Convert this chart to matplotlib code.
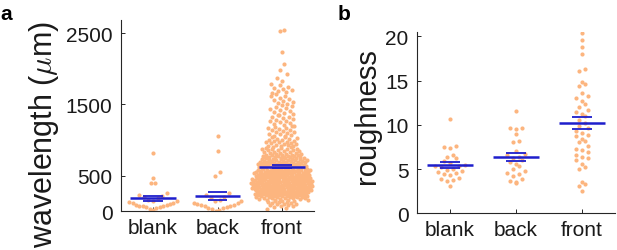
import numpy as np
import matplotlib
matplotlib.use("Agg")
import matplotlib.pyplot as plt

plt.rcParams['font.family'] = ['Liberation Sans', 'DejaVu Sans']
plt.rcParams['mathtext.fontset'] = 'cm'

categories = ["blank", "back", "front"]

# ---- panel a : wavelength (um) ----
wl_blank = [824, 462, 397, 397, 250, 232, 210, 195, 180, 165, 150, 140, 130,
            120, 110, 100, 95, 90, 80, 75, 70, 60, 55, 45, 35, 25]
wl_back = [1059, 848, 552, 490, 250, 230, 200, 180, 160, 150, 140, 120, 110,
           100, 90, 85, 80, 70, 60, 50, 40, 30, 20, 10]
wl_front = [
    38, 52, 61, 74, 80, 88, 93, 99,
    103, 109, 114, 118, 126, 131, 133, 140, 144, 147, 152, 158, 161, 163, 169,
    172, 176, 181, 184, 187, 190, 193, 195, 197, 199,
    201, 204, 205, 208, 211, 212, 216, 218, 219, 222, 224, 226, 228, 230, 231,
    234, 236, 238, 240, 241, 244, 245, 247, 249, 250, 252, 254, 256, 257, 259,
    261, 262, 264, 266, 268, 269, 271, 273, 274, 276, 278, 279, 281, 283, 284,
    286, 287, 289, 290, 292, 293, 294, 295, 296, 297, 298, 299, 243, 263, 277,
    300, 302, 303, 305, 306, 308, 309, 311, 312, 314, 315, 317, 318, 320, 321,
    323, 324, 326, 327, 329, 330, 332, 333, 335, 336, 338, 339, 341, 342, 344,
    345, 347, 348, 350, 351, 353, 354, 356, 357, 359, 360, 362, 363, 365, 366,
    368, 369, 371, 372, 374, 375, 377, 378, 380, 381, 383, 384, 386, 388, 390,
    392, 394, 396, 398, 399, 310, 334, 352, 367, 385,
    400, 401, 403, 404, 406, 408, 409, 411, 413, 414, 416, 418, 419, 421, 423,
    424, 426, 428, 429, 431, 433, 434, 436, 438, 439, 441, 443, 444, 446, 448,
    449, 451, 453, 454, 456, 458, 459, 461, 463, 464, 466, 468, 469, 471, 473,
    474, 476, 478, 479, 481, 483, 484, 486, 488, 489, 491, 493, 494, 496, 498,
    405, 417, 427, 437, 447, 457, 467, 477, 487, 497,
    501, 503, 505, 507, 509, 511, 514, 516, 518, 520, 522, 524, 526, 528, 531,
    533, 535, 537, 539, 541, 543, 545, 548, 550, 552, 554, 556, 558, 560, 562,
    565, 567, 569, 571, 573, 575, 577, 580, 582, 584, 586, 588, 590, 592, 594,
    596, 598, 599, 512, 546,
    601, 603, 605, 608, 610, 612, 615, 617, 619, 622, 624, 626, 629, 631, 633,
    636, 638, 640, 643, 645, 647, 650, 652, 654, 657, 659, 661, 664, 666, 668,
    671, 673, 675, 678, 680, 682, 685, 687, 689, 692, 694, 696, 699, 620, 655,
    702, 705, 708, 711, 714, 717, 720, 723, 726, 729, 732, 735, 738, 741, 744,
    747, 750, 753, 756, 759, 762, 765, 768, 771, 774, 777, 780, 783, 786, 789,
    792, 795, 798, 728, 766,
    804, 811, 814, 818, 825, 828, 831, 839, 843, 846, 855, 858, 861, 869, 872,
    878, 880, 888, 893, 897,
    903, 910, 914, 922, 927, 935, 941, 945, 954, 958, 967, 970, 977, 986, 989,
    996,
    1006, 1015, 1021, 1032, 1038, 1049, 1055, 1063, 1074, 1080, 1090, 1097,
    1108, 1119, 1125, 1138, 1144, 1156, 1163, 1175, 1182, 1194,
    1203, 1217, 1226, 1240, 1248, 1262, 1270, 1285, 1293,
    1305, 1320, 1330, 1345, 1354, 1370, 1379, 1394,
    1409, 1420, 1437, 1448, 1466, 1476, 1493,
    1506, 1524, 1535, 1553, 1563, 1582, 1592,
    1612, 1624, 1640, 1662, 1675, 1690,
    1701, 1721, 1725, 1739, 1772, 1785,
    1834, 1870, 1925, 1983, 2068, 2242, 2532, 2546]

# ---- panel b : roughness ----
ro_blank = [10.7, 7.6, 7.5, 7.4, 6.6, 6.4, 6.2, 5.9, 5.7, 5.5, 5.4, 5.3, 5.2,
            5.0, 4.9, 4.8, 4.7, 4.5, 4.4, 4.3, 4.0, 3.9, 3.8, 3.6, 3.1]
ro_back = [11.6, 9.6, 9.6, 9.5, 9.0, 8.1, 8.2, 7.0, 6.7, 6.6, 6.4, 6.3, 6.0,
           5.8, 5.6, 5.3, 5.0, 4.8, 4.6, 4.4, 4.2, 3.9, 3.7, 3.5, 3.4]
ro_front = [20.4, 19.6, 18.8, 18.0, 16.3, 16.1, 14.8, 14.6, 14.4, 13.6, 13.2,
            13.0, 12.7, 12.3, 12.0, 11.7, 11.5, 11.2, 11.0, 10.5, 10.2, 9.9,
            9.6, 9.3, 9.1, 8.9, 8.7, 8.4, 8.2, 8.0, 7.6, 7.3, 7.1, 6.9, 6.6,
            6.4, 6.2, 6.0, 5.6, 5.2, 5.0, 3.5, 3.3, 3.1, 2.5]

wl_ticks = [0, 500, 1500, 2500]
ro_ticks = [0, 5, 10, 15, 20]

DOT = '#FCB57F'
BLUE = '#1E1ECC'
AXC = '#262626'
GOLD = 0.6180339887


def spread(vals, h, s0, wmax, scatter_k, expo=0.4):
    """Density-based horizontal layout of points (plotSpread-like)."""
    v = np.asarray(vals, float)
    bins = np.floor(v / h).astype(int)
    ub, cnt = np.unique(bins, return_counts=True)
    kmax = cnt.max()
    offs = np.zeros(len(v))
    for b, k in zip(ub, cnt):
        if k < 2:
            continue
        idx = np.where(bins == b)[0]
        idx = idx[np.argsort(v[idx], kind='stable')]
        W = wmax * (k / kmax) ** expo
        s = min(s0, 2 * W / (k - 1))
        half = s * (k - 1) / 2
        if k <= scatter_k:
            pos = (np.arange(k) - (k - 1) / 2) * s
            order = np.argsort(np.abs(pos) + 1e-9 * np.arange(k), kind='stable')
            offs[idx] = pos[order]
        else:
            u = (np.arange(k) * GOLD + 0.37 * b) % 1.0
            offs[idx] = -half + 2 * half * u
    return offs


def panel(ax, groups, h, s0, wmaxes, scat, ylim, yticks, ms):
    for i, (g, wm, sk) in enumerate(zip(groups, wmaxes, scat), start=1):
        g = np.asarray(g, float)
        x = i + spread(g, h, s0, wm, sk)
        ax.scatter(x, g, s=ms, color=DOT, linewidths=0, zorder=2)
        m = g.mean()
        se = g.std(ddof=1) / np.sqrt(len(g))
        ax.plot([i - 0.35, i + 0.35], [m, m], color=BLUE, lw=1.8, zorder=3,
                solid_capstyle='butt')
        for yy in (m - se, m + se):
            ax.plot([i - 0.15, i + 0.15], [yy, yy], color=BLUE, lw=1.3,
                    zorder=3, solid_capstyle='butt')
    ax.set_xlim(0.5, 3.5)
    ax.set_ylim(*ylim)
    ax.set_yticks(yticks)
    ax.set_xticks([1, 2, 3])
    ax.set_xticklabels(categories)
    for sp in ('top', 'right'):
        ax.spines[sp].set_visible(False)
    for sp in ('left', 'bottom'):
        ax.spines[sp].set_color(AXC)
        ax.spines[sp].set_linewidth(0.8)
    ax.tick_params(direction='in', length=3, width=0.7, colors=AXC,
                   labelsize=15, labelcolor='#1a1a1a')
    ax.tick_params(axis='y', pad=6)
    ax.tick_params(axis='x', pad=5)


W, H = 617, 251
fig = plt.figure(figsize=(W / 100, H / 100), dpi=100)

ax_a = fig.add_axes([120.75 / W, 1 - 212.3 / H, 193.5 / W, 191 / H])
panel(ax_a, [wl_blank, wl_back, wl_front], 150, 0.07, (0.37, 0.37, 0.48),
      (20, 20, 4), (0, 2680), wl_ticks, 9)

ax_b = fig.add_axes([417 / W, 1 - 214.3 / H, 197.6 / W, 181 / H])
panel(ax_b, [ro_blank, ro_back, ro_front], 0.7, 0.09, (0.3, 0.3, 0.3),
      (20, 20, 20), (0, 20.45), ro_ticks, 9)

fig.text(44 / W, 1 - 134 / H, r'wavelength ($\mu$m)', rotation=90,
         ha='center', va='center', fontsize=22, color='#1a1a1a')
fig.text(367 / W, 1 - 116 / H, 'roughness', rotation=90,
         ha='center', va='center', fontsize=21, color='#1a1a1a')
fig.text(6.5 / W, 1 - 20 / H, 'a', fontweight='bold', fontsize=15,
         ha='center', va='baseline', color='black')
fig.text(344.5 / W, 1 - 20 / H, 'b', fontweight='bold', fontsize=15,
         ha='center', va='baseline', color='black')

fig.savefig('out.png', dpi=100)
